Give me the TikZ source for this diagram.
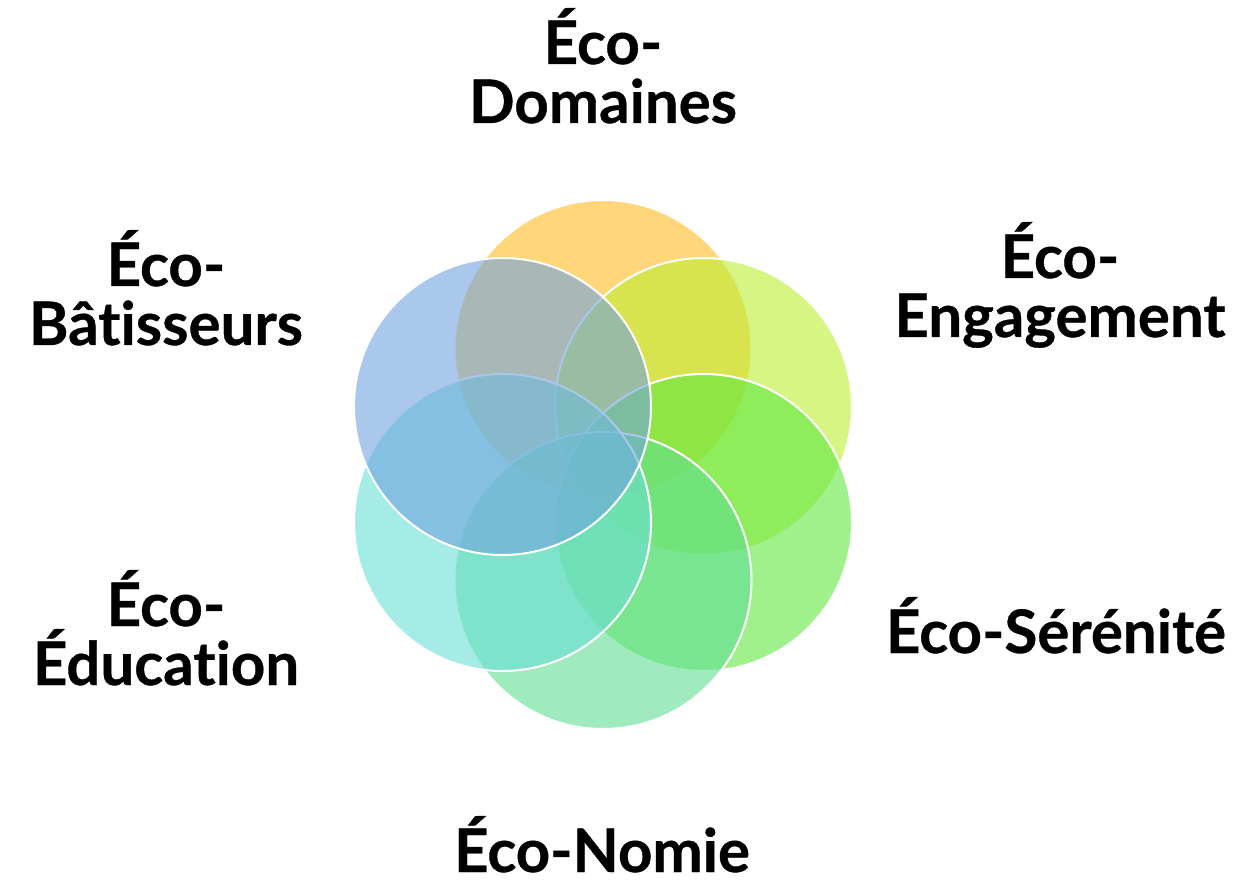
\documentclass[tikz,border=0pt]{standalone}
\usepackage{fontspec}
\setmainfont{Lato}[Ligatures=NoCommon,BoldFeatures={FakeBold=0.6}]
\usepackage{tikz}
\definecolor{petalYellow}{RGB}{255,187,33}
\definecolor{petalLime}{RGB}{188,238,47}
\definecolor{petalGreen}{RGB}{97,230,63}
\definecolor{petalMint}{RGB}{97,222,147}
\definecolor{petalTeal}{RGB}{105,222,213}
\definecolor{petalBlue}{RGB}{113,163,222}

\begin{document}
\begin{tikzpicture}[
  x=1pt,y=-1pt,
  petal/.style={circle,draw=white,line width=2pt,fill opacity=0.6,
    minimum size=297pt,inner sep=0pt},
  label/.style={font=\fontsize{60}{59}\selectfont\bfseries,align=center,
    anchor=base,inner sep=0pt}
]
\useasboundingbox (0,0) rectangle (1251,882);
% petals, back to front
\node[petal,fill=petalYellow] (domaines) at (603,348.5) {};
\node[petal,fill=petalLime] (engagement) at (703.5,406.5) {};
\node[petal,fill=petalGreen] (serenite) at (703.5,522.5) {};
\node[petal,fill=petalMint] (nomie) at (603,580.5) {};
\node[petal,fill=petalTeal] (education) at (502.5,522.5) {};
\node[petal,fill=petalBlue] (batisseurs) at (502.5,406.5) {};
% labels (base = last line)
\node[label] (lbl-domaines) at (603,123) {Éco-\\Domaines};
\node[label] (lbl-batisseurs) at (166,345) {Éco-\\Bâtisseurs};
\node[label] (lbl-engagement) at (1060,337) {Éco-\\Engagement};
\node[label] (lbl-serenite) at (1056,653) {Éco-Sérénité};
\node[label] (lbl-education) at (166,685) {Éco-\\Éducation};
\node[label] (lbl-nomie) at (602,872) {Éco-Nomie};
\end{tikzpicture}
\end{document}
